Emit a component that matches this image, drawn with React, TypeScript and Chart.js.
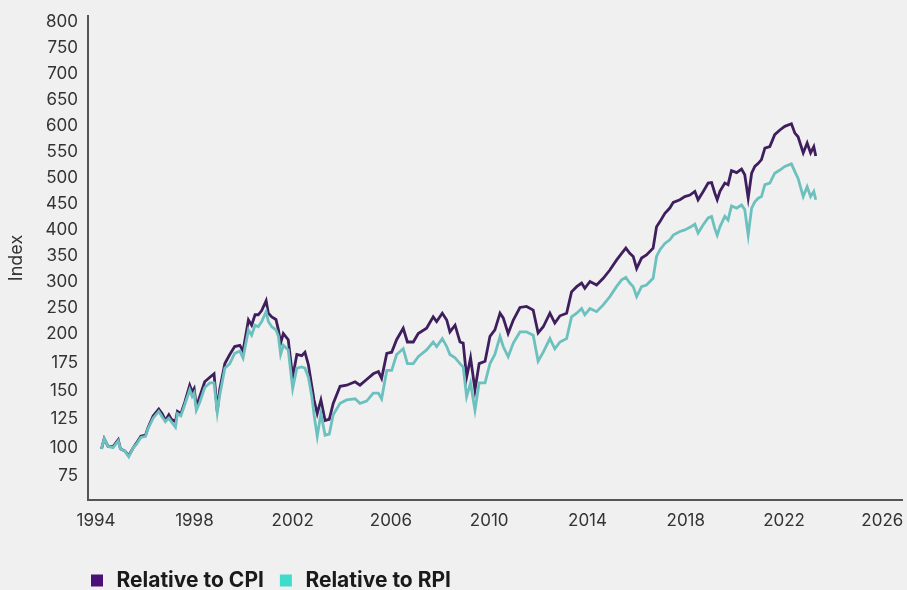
import React, { useEffect, useRef } from "react";
import { Chart, registerables, LinearScale } from "chart.js";

Chart.register(...registerables);

// ---------- data ----------
const DATES = [
  1994.22, 1994.33, 1994.49, 1994.69, 1994.9, 1994.99, 1995.17, 1995.33, 1995.51, 1995.64,
  1995.82, 1996.01, 1996.12, 1996.32, 1996.55, 1996.69, 1996.82, 1996.96, 1997.06, 1997.23,
  1997.31, 1997.45, 1997.61, 1997.81, 1997.91, 1997.99, 1998.08, 1998.22, 1998.42, 1998.63,
  1998.8, 1998.93, 1999.03, 1999.24, 1999.44, 1999.64, 1999.85, 1999.98, 2000.2, 2000.33,
  2000.47, 2000.6, 2000.74, 2000.92, 2001.01, 2001.15, 2001.32, 2001.42, 2001.51, 2001.62,
  2001.82, 2002.0, 2002.17, 2002.37, 2002.5, 2002.64, 2002.78, 2002.87, 2003.0, 2003.15,
  2003.32, 2003.49, 2003.65, 2003.93, 2004.2, 2004.54, 2004.74, 2005.01, 2005.28, 2005.49,
  2005.62, 2005.83, 2006.03, 2006.23, 2006.5, 2006.67, 2006.91, 2007.11, 2007.45, 2007.72,
  2007.86, 2008.09, 2008.27, 2008.4, 2008.61, 2008.81, 2008.94, 2009.08, 2009.24, 2009.42,
  2009.59, 2009.83, 2010.03, 2010.23, 2010.44, 2010.57, 2010.77, 2010.98, 2011.25, 2011.52,
  2011.79, 2011.99, 2012.2, 2012.47, 2012.67, 2012.88, 2013.15, 2013.35, 2013.56, 2013.76,
  2013.89, 2014.1, 2014.37, 2014.64, 2014.91, 2015.18, 2015.39, 2015.56, 2015.72, 2015.86,
  2016.0, 2016.2, 2016.4, 2016.67, 2016.81, 2016.95, 2017.15, 2017.35, 2017.49, 2017.76,
  2017.96, 2018.17, 2018.37, 2018.5, 2018.71, 2018.91, 2019.05, 2019.18, 2019.28, 2019.39,
  2019.59, 2019.72, 2019.86, 2020.07, 2020.27, 2020.4, 2020.54, 2020.68, 2020.81, 2020.95,
  2021.08, 2021.22, 2021.42, 2021.62, 2021.83, 2022.03, 2022.3, 2022.44, 2022.57, 2022.78,
  2022.94, 2023.08, 2023.21, 2023.29,
];

const CPI = [
  99, 108, 101, 101, 107, 99, 97, 93, 100, 104,
  110, 111, 118, 128, 134, 130, 124, 129, 125, 123,
  132, 130, 140, 155, 149, 152, 136, 145, 158, 162,
  165, 132, 151, 174, 182, 189, 190, 185, 227, 217,
  237, 237, 245, 264, 240, 233, 228, 208, 192, 201,
  195, 162, 182, 181, 184, 173, 154, 142, 130, 142,
  124, 125, 139, 154, 155, 158, 155, 160, 165, 167,
  161, 183, 184, 195, 211, 193, 193, 201, 211, 233,
  224, 240, 227, 204, 217, 193, 192, 162, 179, 151,
  174, 176, 198, 208, 240, 231, 201, 227, 251, 253,
  246, 202, 214, 240, 221, 235, 240, 281, 291, 298,
  288, 301, 294, 307, 323, 342, 355, 365, 355, 349,
  326, 346, 352, 365, 406, 416, 432, 442, 453, 458,
  464, 467, 474, 458, 474, 490, 491, 471, 458, 474,
  490, 487, 514, 510, 517, 506, 461, 509, 522, 528,
  535, 557, 560, 583, 592, 599, 604, 586, 579, 548,
  567, 548, 560, 542,
];

const RPI = [
  99, 108, 101, 100, 106, 99, 97, 92, 100, 103,
  109, 110, 117, 126, 132, 127, 123, 126, 123, 118,
  130, 128, 138, 151, 145, 148, 133, 140, 153, 157,
  157, 131, 146, 170, 174, 183, 185, 179, 208, 199,
  217, 214, 224, 243, 224, 214, 208, 198, 182, 190,
  186, 152, 170, 171, 170, 162, 145, 129, 110, 130,
  111, 112, 129, 139, 142, 143, 139, 141, 148, 148,
  143, 168, 168, 182, 187, 174, 174, 180, 186, 193,
  189, 196, 189, 182, 179, 174, 171, 145, 157, 133,
  157, 157, 174, 182, 198, 189, 180, 192, 204, 204,
  199, 176, 184, 196, 187, 193, 196, 233, 240, 249,
  237, 249, 243, 256, 272, 291, 304, 309, 298, 291,
  272, 291, 294, 307, 349, 362, 374, 381, 390, 397,
  400, 405, 411, 394, 410, 423, 426, 403, 390, 406,
  426, 419, 446, 442, 448, 439, 390, 442, 454, 461,
  464, 487, 490, 509, 515, 522, 527, 512, 499, 464,
  483, 464, 474, 458,
];

const SERIES_LABELS = ["Relative to CPI", "Relative to RPI"];
const Y_TICKS = [75, 100, 125, 150, 175, 200, 250, 300, 350, 400, 450, 500, 550, 600, 650, 700, 750, 800];
const X_TICKS = [1994, 1998, 2002, 2006, 2010, 2014, 2018, 2022, 2026];
const Y_TITLE = "Index";

// ---------- axis settings ----------
// The value axis is split: steps of 25 below 200, steps of 50 above,
// and each low step is drawn a little taller than a high step.
const Y_BREAK = 200;
const Y_LOW_STEP = 25;
const Y_HIGH_STEP = 50;
const Y_LOW_STRETCH = 1.092;
const Y_MIN = 54;
const Y_MAX = 811;
const X_MIN = 1993.67;
const X_MAX = 2026.8;

// ---------- styles ----------
const BG = "#f0f0f0";
const FONT = "Inter, 'Noto Sans', sans-serif";
const TEXT = "#333333";
const AXIS = "#555555";
const CPI_LINE = "#3f1e5e";
const RPI_LINE = "#6cc1be";
const CPI_KEY = "#4b0f78";
const RPI_KEY = "#3fdccb";
const LEGEND_SHIFT_X = -13;
const LEGEND_SHIFT_Y = 11;

const toUnit = (v: number) =>
  v <= Y_BREAK ? ((v - Y_BREAK) / Y_LOW_STEP) * Y_LOW_STRETCH : (v - Y_BREAK) / Y_HIGH_STEP;
const fromUnit = (u: number) =>
  u <= 0 ? Y_BREAK + (u / Y_LOW_STRETCH) * Y_LOW_STEP : Y_BREAK + u * Y_HIGH_STEP;

class SplitScale extends LinearScale {
  static id = "split";
  static defaults = {};
  buildTicks() {
    return Y_TICKS.filter((v) => v >= this.min && v <= this.max).map((value) => ({ value }));
  }
  getPixelForValue(value: number) {
    const u0 = toUnit(this.min);
    const u1 = toUnit(this.max);
    return this.getPixelForDecimal((toUnit(value) - u0) / (u1 - u0));
  }
  getValueForPixel(pixel: number) {
    const u0 = toUnit(this.min);
    const u1 = toUnit(this.max);
    return fromUnit(u0 + this.getDecimalForPixel(pixel) * (u1 - u0));
  }
}
Chart.register(SplitScale as any);

const legendShift = {
  id: "legendShift",
  afterLayout(chart: any) {
    const l = chart.legend;
    if (!l) return;
    l.left += LEGEND_SHIFT_X;
    l.right += LEGEND_SHIFT_X;
    l.top += LEGEND_SHIFT_Y;
    l.bottom += LEGEND_SHIFT_Y;
  },
};

export default function App() {
  const ref = useRef<HTMLCanvasElement>(null);

  useEffect(() => {
    document.body.style.margin = "0";
    document.body.style.background = BG;
    if (!ref.current) return;

    const chart = new Chart(ref.current, {
      type: "line",
      data: {
        datasets: [
          {
            label: SERIES_LABELS[0],
            data: DATES.map((x, i) => ({ x, y: CPI[i] })),
            borderColor: CPI_LINE,
            backgroundColor: CPI_KEY,
            borderWidth: 2.8,
            pointRadius: 0,
            tension: 0,
            order: 1,
          },
          {
            label: SERIES_LABELS[1],
            data: DATES.map((x, i) => ({ x, y: RPI[i] })),
            borderColor: RPI_LINE,
            backgroundColor: RPI_KEY,
            borderWidth: 2.8,
            pointRadius: 0,
            tension: 0,
            order: 0,
          },
        ],
      },
      options: {
        animation: false,
        responsive: true,
        maintainAspectRatio: false,
        layout: { padding: { top: 16, right: 5, left: 8, bottom: 0 } },
        plugins: {
          tooltip: { enabled: false },
          legend: {
            position: "bottom",
            align: "start",
            fullSize: false,
            labels: {
              usePointStyle: true,
              pointStyle: "rect",
              boxWidth: 18,
              boxHeight: 12,
              padding: 13,
              color: "#1a1a1a",
              font: { family: FONT, size: 21, weight: "bold" },
              generateLabels: (c: any) =>
                c.data.datasets.map((ds: any, i: number) => ({
                  text: ds.label,
                  fillStyle: ds.backgroundColor,
                  strokeStyle: ds.backgroundColor,
                  fontColor: "#1a1a1a",
                  lineWidth: 0,
                  pointStyle: "rect",
                  hidden: false,
                  datasetIndex: i,
                })),
            },
          },
        },
        scales: {
          x: {
            type: "linear",
            min: X_MIN,
            max: X_MAX,
            grid: { display: false, drawTicks: false },
            border: { display: true, color: AXIS, width: 2 },
            ticks: {
              color: TEXT,
              font: { family: FONT, size: 17 },
              padding: 11,
              maxRotation: 0,
              autoSkip: false,
              callback: (v: any) => String(v),
            },
            afterBuildTicks: (s: any) => {
              s.ticks = X_TICKS.map((value) => ({ value }));
            },
            afterFit: (s: any) => {
              s.height = 46;
              s.paddingLeft = 0;
              s.paddingRight = 0;
            },
          },
          y: {
            type: "split" as any,
            min: Y_MIN,
            max: Y_MAX,
            grid: { display: false, drawTicks: false },
            border: { display: true, color: AXIS, width: 2 },
            title: {
              display: true,
              text: Y_TITLE,
              color: TEXT,
              font: { family: FONT, size: 18, lineHeight: 1 },
              padding: 0,
            },
            ticks: {
              color: TEXT,
              font: { family: FONT, size: 17 },
              padding: 10,
              autoSkip: false,
              callback: (v: any) => String(v),
            },
            afterFit: (s: any) => {
              s.width = 80;
              s.paddingTop = 0;
              s.paddingBottom = 0;
            },
          },
        },
      } as any,
      plugins: [legendShift],
    });

    return () => chart.destroy();
  }, []);

  return (
    <div style={{ width: 907, height: 590, background: BG, position: "relative" }}>
      <canvas ref={ref} />
    </div>
  );
}
